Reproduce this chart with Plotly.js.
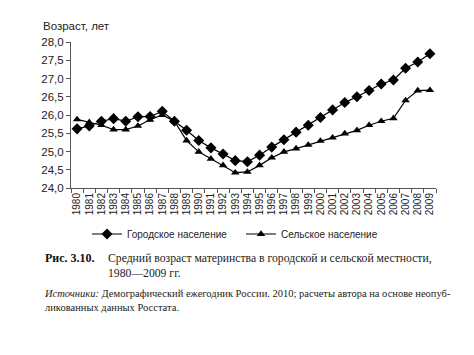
<!DOCTYPE html>
<html><head><meta charset="utf-8">
<script src="https://cdn.plot.ly/plotly-3.0.1.min.js"></script>
<style>html,body{margin:0;padding:0;background:#fff}#c{width:474px;height:355px}</style>
</head><body><div id="c"></div>
<script>
const years = ["1980","1981","1982","1983","1984","1985","1986","1987","1988","1989","1990","1991","1992","1993","1994","1995","1996","1997","1998","1999","2000","2001","2002","2003","2004","2005","2006","2007","2008","2009"];
const urban = [25.62,25.7,25.83,25.9,25.83,25.95,25.96,26.1,25.83,25.58,25.3,25.1,24.93,24.75,24.72,24.9,25.12,25.32,25.53,25.72,25.93,26.14,26.34,26.5,26.67,26.85,26.96,27.28,27.45,27.68];
const rural = [25.88,25.8,25.72,25.6,25.6,25.7,25.87,26.0,25.83,25.3,24.99,24.8,24.62,24.42,24.44,24.62,24.83,24.99,25.08,25.18,25.29,25.38,25.49,25.58,25.72,25.83,25.91,26.4,26.67,26.68];
const names = ["Городское население","Сельское население"];

const px = (p)=> (p-71)/365;
const py = (p)=> (188-p)/146;

const data = [
 {x: years, y: urban, name: names[0], type:"scatter", mode:"lines+markers",
  line:{color:"#000", width:1.2}, marker:{symbol:"diamond", size:8.5, color:"#000"}},
 {x: years, y: rural, name: names[1], type:"scatter", mode:"lines+markers",
  line:{color:"#000", width:1.2}, marker:{symbol:"triangle-up", size:7.5, color:"#000"}}
];
const sans = "Liberation Sans, Arial, sans-serif";
const serif = "Liberation Serif, Times New Roman, serif";
const layout = {
 width:474, height:355,
 margin:{l:71, r:38, t:42, b:167},
 paper_bgcolor:"#fff", plot_bgcolor:"#fff",
 separators:",.",
 showlegend:true,
 legend:{orientation:"h", x:px(87), xanchor:"left", y:py(234), yanchor:"middle",
   font:{family:sans, size:10, color:"#222"}, entrywidth:109, itemwidth:30, tracegroupgap:0},
 xaxis:{type:"category", range:[-0.5,29.5], showgrid:false, zeroline:false,
   tickmode:"linear", dtick:1,
   showline:true, linecolor:"#555", linewidth:1, ticks:"outside", ticklen:4, tickcolor:"#555",
   tickson:"boundaries", tickangle:-90, tickfont:{family:sans, size:10, color:"#222"}},
 yaxis:{range:[24,28], dtick:0.5, tickformat:".1f", showgrid:false, zeroline:false,
   showline:true, linecolor:"#555", linewidth:1, ticks:"outside", ticklen:4, tickcolor:"#555",
   tickfont:{family:sans, size:11.5, color:"#222"}},
 annotations:[
  {text:"Возраст, лет", xref:"paper", yref:"paper", x:px(41), y:py(26), xanchor:"left", yanchor:"middle", showarrow:false, font:{family:sans, size:11.5, color:"#222"}},
  {text:"<b>Рис. 3.10.</b>", xref:"paper", yref:"paper", x:px(43), y:py(258), xanchor:"left", yanchor:"middle", showarrow:false, font:{family:serif, size:12, color:"#111"}},
  {text:"Средний возраст материнства в городской и сельской местности,<br>1980—2009 гг.", xref:"paper", yref:"paper", x:px(106), y:py(266), xanchor:"left", yanchor:"middle", align:"left", showarrow:false, font:{family:serif, size:11.7, color:"#222"}},
  {text:"<i>Источники:</i> Демографический ежегодник России. 2010; расчеты автора на основе неопуб-<br>ликованных данных Росстата.", xref:"paper", yref:"paper", x:px(42), y:py(300), xanchor:"left", yanchor:"middle", align:"left", showarrow:false, font:{family:serif, size:10.5, color:"#222"}}
 ]
};
Plotly.newPlot("c", data, layout, {displayModeBar:false, staticPlot:true});
</script></body></html>
